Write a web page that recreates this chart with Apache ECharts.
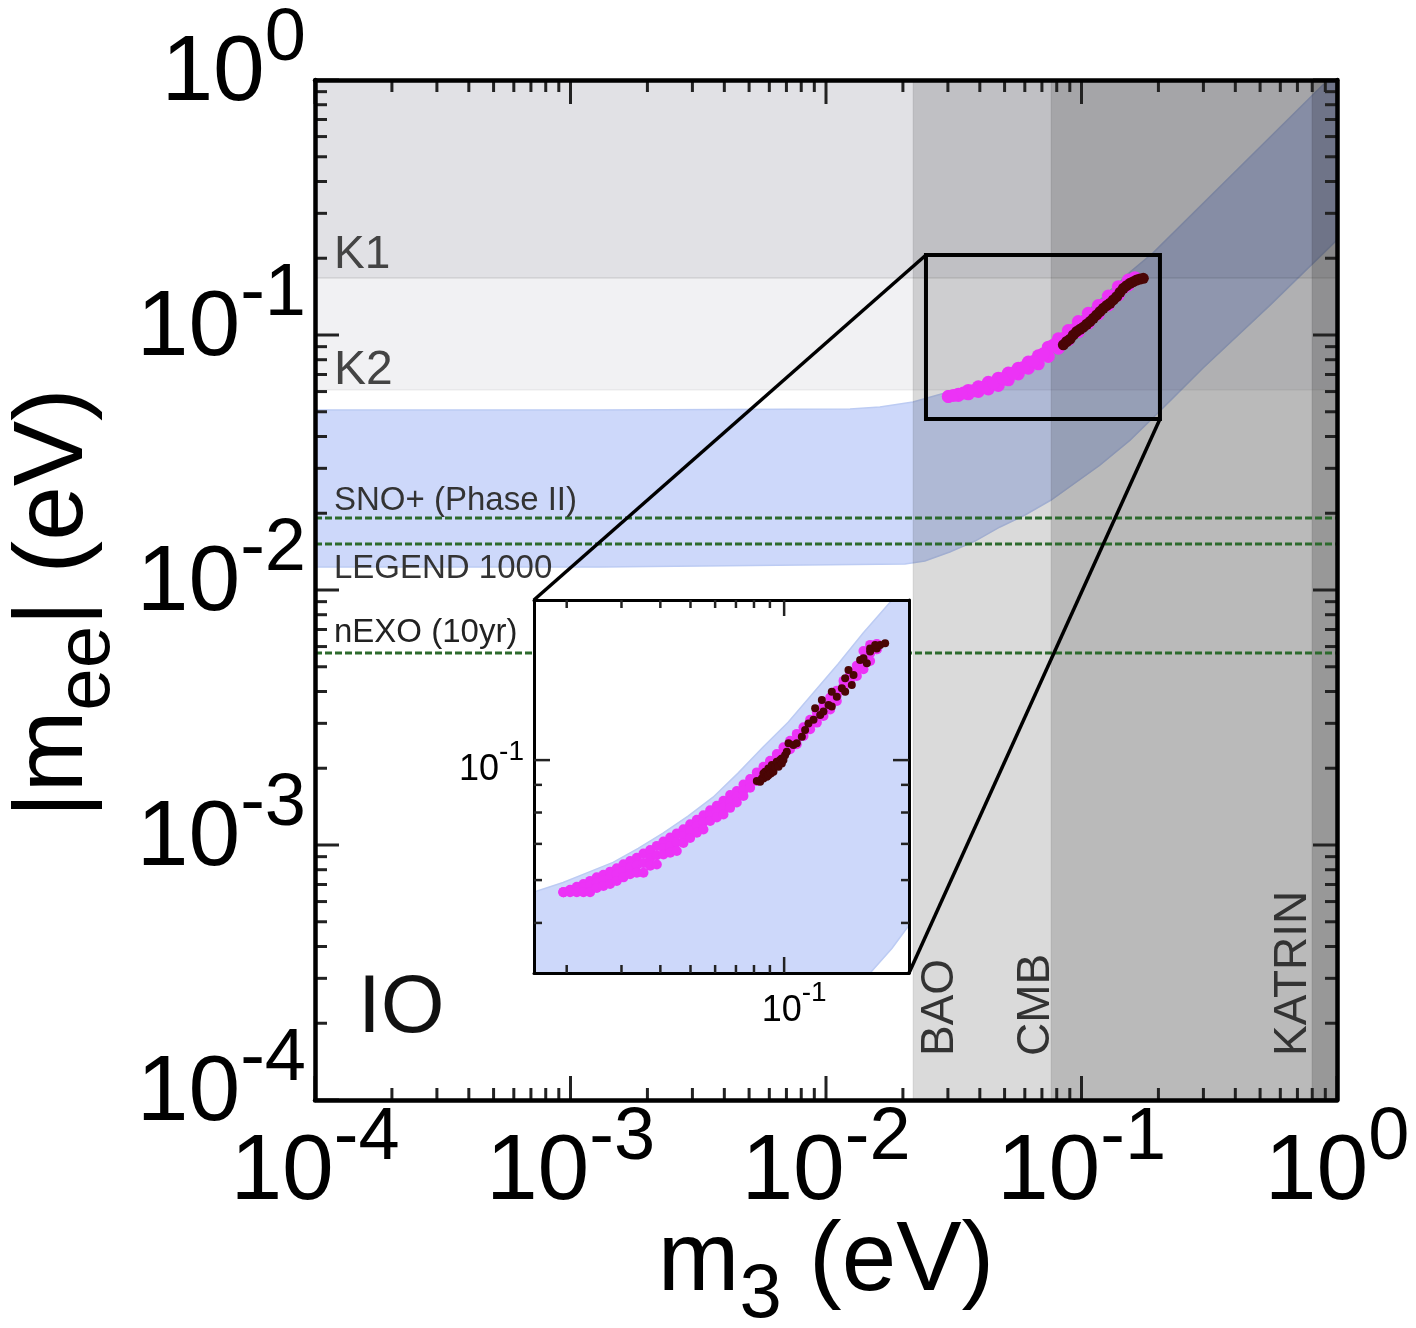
<!DOCTYPE html>
<html>

<head>
    <meta charset="utf-8">
    <title>IO</title>
    <script src="https://cdn.jsdelivr.net/npm/echarts@6/dist/echarts.min.js"></script>
    <style>
        html, body { margin: 0; background: #fff; }
    </style>
</head>

<body>
    <div id="main" style="width: 1416px;height:1328px;"></div>
</body>
<script type="text/javascript">
    // main panel limits
    var mainXRange = [1e-4, 1];
    var mainYRange = [1e-4, 1];
    var decades = [1e-4, 1e-3, 1e-2, 1e-1, 1];
    var minorFactors = [2, 3, 4, 5, 6, 7, 8, 9];

    // inset limits + ticks
    var insetXRange = [0.0157, 0.252];
    var insetYRange = [0.0404, 0.1977];
    var insetXMinor = [0.02, 0.03, 0.04, 0.05, 0.06, 0.07, 0.08, 0.09];
    var insetXMajor = [0.1];
    var insetYMinor = [0.05, 0.06, 0.07, 0.08, 0.09];
    var insetYMajor = [0.1];

    // excluded regions
    var k1Limit = [0.1674, 1];
    var k2Limit = [0.0608, 0.1674];
    var baoLimit = 0.0219;
    var cmbLimit = 0.076;
    var katrinLimit = 0.798;

    // sensitivities
    var snoLimit = 0.01915;
    var legendLimit = 0.01515;
    var nexoLimit = 0.00566;

    // allowed band, main panel
    var bandUpperX = [1e-4, 0.0013, 0.01242, 0.01625, 0.0219, 0.0292, 0.0383, 0.048, 0.0601, 0.076, 0.0944, 0.118, 0.155, 0.1906, 0.881, 1];
    var bandUpperY = [0.0508, 0.0508, 0.0513, 0.0522, 0.0546, 0.0592, 0.0637, 0.0678, 0.0783, 0.093, 0.1125, 0.137, 0.1767, 0.21, 0.956, 1];
    var bandLowerX = [1e-4, 0.0013, 0.02037, 0.02437, 0.0305, 0.0383, 0.048, 0.0601, 0.076, 0.118, 0.155, 0.2028, 0.299, 0.547, 1];
    var bandLowerY = [0.0123, 0.0123, 0.01265, 0.013, 0.0141, 0.01556, 0.01767, 0.01968, 0.02254, 0.0309, 0.0387, 0.0504, 0.0742, 0.131, 0.236];

    // allowed band, inset
    var insetBandX = [0.0157, 0.01947, 0.02344, 0.02818, 0.03395, 0.0408, 0.0491, 0.0591, 0.0711, 0.0856, 0.103, 0.124, 0.1493, 0.1795, 0.2223, 0.252, 0.252, 0.2223, 0.189, 0.0157];
    var insetBandY = [0.057, 0.0594, 0.062, 0.0647, 0.0687, 0.0733, 0.0788, 0.0854, 0.0946, 0.1057, 0.1175, 0.133, 0.1507, 0.1718, 0.1977, 0.1977, 0.0495, 0.0449, 0.0404, 0.0404];

    // points, main panel
    var mainPinkX = [0.03012, 0.03295, 0.03606, 0.03947, 0.04319, 0.04725, 0.05171, 0.05658, 0.06194, 0.06776, 0.07417, 0.08117, 0.08879, 0.09719, 0.1063, 0.1164, 0.1274, 0.1394, 0.1525, 0.1619];
    var mainPinkTop = [0.0574, 0.0586, 0.0606, 0.0626, 0.0652, 0.0677, 0.0709, 0.0741, 0.0783, 0.0829, 0.0896, 0.0966, 0.1041, 0.1129, 0.1217, 0.1304, 0.1422, 0.1547, 0.1643, 0.1678];
    var mainPinkBot = [0.0574, 0.0579, 0.0588, 0.0601, 0.0614, 0.0634, 0.0667, 0.0703, 0.0741, 0.0771, 0.0824, 0.0888, 0.0957, 0.1031, 0.1112, 0.121, 0.1312, 0.1436, 0.1571, 0.1653];
    var mainPinkMidX = [0.0315, 0.0345, 0.0377, 0.0413, 0.0452, 0.0494, 0.0541, 0.0592, 0.0648, 0.0709, 0.0776, 0.0849, 0.0929, 0.1017, 0.1112, 0.1217, 0.1332, 0.1458, 0.1572];
    var mainPinkMidY = [0.0579, 0.0592, 0.0604, 0.0624, 0.0648, 0.0675, 0.0709, 0.0746, 0.0787, 0.0844, 0.0912, 0.0969, 0.1047, 0.1121, 0.121, 0.1308, 0.1422, 0.1535, 0.1643];
    var mainDarkX = [0.0849, 0.0875, 0.0902, 0.0929, 0.0957, 0.0987, 0.1017, 0.1048, 0.1079, 0.1112, 0.1147, 0.1181, 0.1217, 0.1254, 0.1293, 0.1332, 0.1373, 0.1415, 0.1458, 0.1502, 0.1548, 0.1596, 0.1644, 0.1694, 0.1746];
    var mainDarkY = [0.0915, 0.0943, 0.0963, 0.1001, 0.1031, 0.1053, 0.1073, 0.1102, 0.1129, 0.1163, 0.1199, 0.1235, 0.1273, 0.1304, 0.1332, 0.1372, 0.1414, 0.147, 0.1524, 0.1561, 0.1595, 0.1618, 0.1643, 0.1658, 0.1668];

    // points, inset
    var insetPinkX = [0.01952, 0.02051, 0.02155, 0.02264, 0.02378, 0.02498, 0.02625, 0.02758, 0.02897, 0.03044, 0.03198, 0.0336, 0.0353, 0.0371, 0.03897, 0.04093, 0.04301, 0.04518, 0.04746, 0.04987, 0.0524, 0.05503, 0.05783, 0.06075, 0.06382, 0.06705, 0.07044, 0.074, 0.07775, 0.08168, 0.08582, 0.09016, 0.09472, 0.09952, 0.1045, 0.1098, 0.1154, 0.1212, 0.1274, 0.1338, 0.1406, 0.1477, 0.1552, 0.163, 0.1713, 0.1799, 0.189, 0.1986];
    var insetPinkTop = [0.057, 0.0576, 0.0583, 0.059, 0.0598, 0.0607, 0.0614, 0.0622, 0.0631, 0.0642, 0.0651, 0.066, 0.0672, 0.0682, 0.0694, 0.0707, 0.0719, 0.0732, 0.0745, 0.0761, 0.0776, 0.0791, 0.0808, 0.0823, 0.0841, 0.0862, 0.0877, 0.0901, 0.0923, 0.0949, 0.0972, 0.0997, 0.1026, 0.1056, 0.1086, 0.1118, 0.115, 0.1187, 0.1226, 0.1262, 0.1305, 0.1344, 0.1401, 0.1443, 0.1495, 0.1591, 0.1633, 0.164];
    var insetPinkMid = [0.057, 0.0574, 0.0578, 0.0582, 0.0586, 0.0593, 0.06, 0.0607, 0.0615, 0.0624, 0.0633, 0.0639, 0.0645, 0.0659, 0.0667, 0.0687, 0.0693, 0.0704, 0.0724, 0.074, 0.0755, 0.0768, 0.079, 0.0802, 0.0817, 0.0839, 0.0856, 0.0879, 0.0906, 0.0932, 0.0958, 0.0993, 0.1014, 0.1041, 0.1066, 0.1094, 0.1129, 0.1162, 0.1201, 0.1235, 0.1272, 0.1316, 0.1371, 0.1417, 0.1464, 0.1532, 0.1576, 0.1603];
    var insetPinkBot = [0.057, 0.057, 0.057, 0.057, 0.057, 0.058, 0.0585, 0.059, 0.0598, 0.0607, 0.0615, 0.0619, 0.0619, 0.0638, 0.0641, 0.0669, 0.0674, 0.0679, 0.0703, 0.0718, 0.0734, 0.0744, 0.0772, 0.0783, 0.0793, 0.0816, 0.0835, 0.0858, 0.0889, 0.0915, 0.0948, 0.0989, 0.1003, 0.1025, 0.1047, 0.107, 0.1108, 0.114, 0.1173, 0.1207, 0.1241, 0.1286, 0.1352, 0.1391, 0.1431, 0.1472, 0.1525, 0.1603];
    var insetDarkX = [0.0817, 0.0837, 0.0848, 0.0858, 0.0858, 0.0869, 0.088, 0.089, 0.089, 0.0902, 0.0906, 0.0913, 0.0924, 0.0935, 0.0947, 0.0959, 0.0971, 0.0983, 0.0983, 0.0995, 0.1007, 0.102, 0.1033, 0.1071, 0.1098, 0.114, 0.1168, 0.1197, 0.1243, 0.1258, 0.1306, 0.1338, 0.1322, 0.1389, 0.1423, 0.1423, 0.1477, 0.1533, 0.1571, 0.1571, 0.165, 0.161, 0.1671, 0.1755, 0.1844, 0.1799, 0.189, 0.189, 0.1986, 0.2035, 0.2112, 0.1962];
    var insetDarkY = [0.0915, 0.0912, 0.0925, 0.0925, 0.0945, 0.0952, 0.0932, 0.0965, 0.0938, 0.0958, 0.0945, 0.0979, 0.0952, 0.0972, 0.0993, 0.0972, 0.1, 0.1007, 0.0986, 0.1, 0.1021, 0.1036, 0.1074, 0.1066, 0.1074, 0.1105, 0.1137, 0.1169, 0.1187, 0.1247, 0.1212, 0.123, 0.1292, 0.1265, 0.1256, 0.1338, 0.131, 0.1358, 0.1338, 0.1417, 0.1377, 0.1468, 0.1437, 0.1532, 0.151, 0.1542, 0.1587, 0.1609, 0.1609, 0.1633, 0.1645, 0.1633];

    // zoom box and the lines going to the inset corners
    var boxX = [0.02462, 0.2028];
    var boxY = [0.0468, 0.2059];
    var leaderA = [[0.02462, 0.2059], [0.000719, 0.00914]];
    var leaderB = [[0.2028, 0.0468], [0.02113, 0.000315]];

    var fontName = '"Liberation Sans", Arial, sans-serif';

    function zip(xs, ys) {
        return xs.map(function(x, i) {
            return [x, ys[i]];
        });
    }

    function powerLabel(v) {
        var e = Math.round(Math.log(v) / Math.LN10);
        if (Math.abs(Math.pow(10, e) / v - 1) > 0.001) {
            return '';
        }
        return '{b|10}{s|' + e + '}';
    }

    function bigRich() {
        return {
            b: { fontSize: 93, fontFamily: fontName, color: '#000', lineHeight: 80, verticalAlign: 'bottom', padding: [0, 0, 44, 0] },
            s: { fontSize: 74, fontFamily: fontName, color: '#000', lineHeight: 60, verticalAlign: 'bottom', padding: [0, 0, 88, 0] }
        };
    }

    function smallRich() {
        return {
            b: { fontSize: 36, fontFamily: fontName, color: '#000', lineHeight: 34, verticalAlign: 'bottom', padding: [0, 0, 6, 0] },
            s: { fontSize: 28, fontFamily: fontName, color: '#000', lineHeight: 26, verticalAlign: 'bottom', padding: [0, 0, 28, 0] }
        };
    }

    // ticks on all four sides, drawn inward
    function tickSeries(index, xMajor, xMinor, yMajor, yMinor, lenMajor, lenMinor, width, z) {
        var items = [];
        xMajor.forEach(function(v) { items.push(['x', v, lenMajor]); });
        xMinor.forEach(function(v) { items.push(['x', v, lenMinor]); });
        yMajor.forEach(function(v) { items.push(['y', v, lenMajor]); });
        yMinor.forEach(function(v) { items.push(['y', v, lenMinor]); });
        return {
            type: 'custom',
            xAxisIndex: index,
            yAxisIndex: index,
            z: z,
            silent: true,
            clip: false,
            encode: { x: [], y: [] },
            data: items.map(function(t, i) { return [i]; }),
            renderItem: function(params, api) {
                var t = items[params.dataIndex];
                var cs = params.coordSys;
                var len = t[2];
                var lines = [];
                if (t[0] === 'x') {
                    var px = api.coord([t[1], index === 0 ? 1 : insetYRange[1]])[0];
                    lines = [[px, cs.y, px, cs.y + len], [px, cs.y + cs.height, px, cs.y + cs.height - len]];
                } else {
                    var py = api.coord([index === 0 ? 1 : insetXRange[1], t[1]])[1];
                    lines = [[cs.x, py, cs.x + len, py], [cs.x + cs.width, py, cs.x + cs.width - len, py]];
                }
                return {
                    type: 'group',
                    children: lines.map(function(l) {
                        return {
                            type: 'line',
                            shape: { x1: l[0], y1: l[1], x2: l[2], y2: l[3] },
                            style: { stroke: '#222', lineWidth: width }
                        };
                    })
                };
            }
        };
    }

    // one filled polygon from value arrays
    function polygonSeries(index, pts, fill, edge, z) {
        return {
            type: 'custom',
            xAxisIndex: index,
            yAxisIndex: index,
            z: z,
            silent: true,
            clip: true,
            encode: { x: [], y: [] },
            data: [[0]],
            renderItem: function(params, api) {
                return {
                    type: 'polygon',
                    shape: { points: pts.map(function(p) { return api.coord(p); }) },
                    style: { fill: fill, stroke: edge, lineWidth: 1.5 }
                };
            }
        };
    }

    // translucent rectangles, x0 x1 y0 y1
    var shades = [
        [mainXRange[0], mainXRange[1], k1Limit[0], k1Limit[1], 'rgba(40,45,70,0.14)'],
        [mainXRange[0], mainXRange[1], k2Limit[0], k2Limit[1], 'rgba(40,45,70,0.065)'],
        [baoLimit, mainXRange[1], mainYRange[0], mainYRange[1], 'rgba(20,20,20,0.155)'],
        [cmbLimit, mainXRange[1], mainYRange[0], mainYRange[1], 'rgba(20,20,20,0.155)'],
        [katrinLimit, mainXRange[1], mainYRange[0], mainYRange[1], 'rgba(20,20,20,0.2)']
    ];
    var shadeSeries = {
        type: 'custom',
        xAxisIndex: 0,
        yAxisIndex: 0,
        z: 2,
        silent: true,
        clip: true,
        encode: { x: [], y: [] },
        data: shades.map(function(s, i) { return [i]; }),
        renderItem: function(params, api) {
            var s = shades[params.dataIndex];
            var a = api.coord([s[0], s[3]]);
            var b = api.coord([s[1], s[2]]);
            return {
                type: 'rect',
                shape: { x: a[0], y: a[1], width: b[0] - a[0], height: b[1] - a[1] },
                style: { fill: s[4], stroke: 'rgba(0,0,0,0.05)', lineWidth: 1.5 }
            };
        }
    };

    function limitLine(v) {
        return {
            type: 'line',
            xAxisIndex: 0,
            yAxisIndex: 0,
            z: 3,
            silent: true,
            symbol: 'none',
            data: [[mainXRange[0], v], [mainXRange[1], v]],
            lineStyle: { color: '#2c6a2c', width: 3, type: [7, 3] }
        };
    }

    var boxSeries = {
        type: 'custom',
        xAxisIndex: 0,
        yAxisIndex: 0,
        z: 14,
        silent: true,
        clip: false,
        encode: { x: [], y: [] },
        data: [[0]],
        renderItem: function(params, api) {
            var a = api.coord([boxX[0], boxY[1]]);
            var b = api.coord([boxX[1], boxY[0]]);
            var lineOf = function(seg) {
                var p = api.coord(seg[0]);
                var q = api.coord(seg[1]);
                return {
                    type: 'line',
                    shape: { x1: p[0], y1: p[1], x2: q[0], y2: q[1] },
                    style: { stroke: '#000', lineWidth: 3.5 }
                };
            };
            return {
                type: 'group',
                children: [{
                    type: 'rect',
                    shape: { x: a[0], y: a[1], width: b[0] - a[0], height: b[1] - a[1] },
                    style: { fill: 'none', stroke: '#000', lineWidth: 4 }
                }, lineOf(leaderA), lineOf(leaderB)]
            };
        }
    };

    function scatter(index, pts, size, color, z) {
        return {
            type: 'scatter',
            xAxisIndex: index,
            yAxisIndex: index,
            z: z,
            silent: true,
            symbolSize: size,
            itemStyle: { color: color, opacity: 1 },
            data: pts
        };
    }

    function minorsOf(list) {
        var out = [];
        list.slice(0, -1).forEach(function(d) {
            minorFactors.forEach(function(f) { out.push(d * f); });
        });
        return out;
    }

    function plainAxis(kind, index, range, position, z) {
        return {
            type: 'log',
            logBase: 10,
            gridIndex: index,
            position: position,
            min: range[0],
            max: range[1],
            z: z,
            splitLine: { show: false },
            axisTick: { show: false },
            axisLabel: { show: false },
            axisLine: { show: true, onZero: false, lineStyle: { color: '#000', width: index === 0 ? 4.5 : 3 } }
        };
    }

    function nameRich() {
        return {
            n: { fontSize: 98, fontFamily: fontName, color: '#000', lineHeight: 100, verticalAlign: 'bottom', padding: [0, 0, 22, 0] },
            sub: { fontSize: 76, fontFamily: fontName, color: '#000', lineHeight: 76, verticalAlign: 'bottom' }
        };
    }

    var xBottom = plainAxis('x', 0, mainXRange, 'bottom', 6);
    xBottom.axisLabel = { show: true, margin: 84, formatter: powerLabel, rich: bigRich() };
    xBottom.name = '{n|m}{sub|3}{n| (eV)}';
    xBottom.nameLocation = 'center';
    xBottom.nameGap = 134;
    xBottom.nameMoveOverlap = false;
    xBottom.nameTextStyle = { rich: nameRich() };

    var yLeft = plainAxis('y', 0, mainYRange, 'left', 6);
    yLeft.axisLabel = { show: true, margin: 9, padding: [90, 0, 0, 0], formatter: powerLabel, rich: bigRich() };
    yLeft.name = '{n||m}{sub|ee}{n|| (eV)}';
    yLeft.nameLocation = 'center';
    yLeft.nameGap = 188;
    yLeft.nameRotate = 90;
    yLeft.nameTextStyle = { padding: [0, 26, 0, 0], rich: nameRich() };

    var xInset = plainAxis('x', 1, insetXRange, 'bottom', 12);
    xInset.axisLabel = { show: true, margin: 28, padding: [0, 0, 0, 20], formatter: powerLabel, rich: smallRich() };
    var yInset = plainAxis('y', 1, insetYRange, 'left', 12);
    yInset.axisLabel = { show: true, margin: 10, padding: [34, 0, 0, 0], formatter: powerLabel, rich: smallRich() };

    function labelText(text, x, y, size, color, rotated) {
        return {
            type: 'text',
            x: x,
            y: y,
            z: 30,
            silent: true,
            rotation: rotated ? Math.PI / 2 : 0,
            style: {
                text: text,
                fill: color,
                font: size + 'px ' + fontName,
                textAlign: 'left',
                textVerticalAlign: 'bottom'
            }
        };
    }

    var chart = echarts.init(document.getElementById('main'));
    chart.setOption({
        animation: false,
        backgroundColor: '#fff',
        grid: [
            { left: 315, top: 80, width: 1022, height: 1020, z: 0, outerBoundsMode: 'none' },
            { left: 534, top: 600, width: 375, height: 373, show: true, backgroundColor: '#fff', borderWidth: 0, z: 10, outerBoundsMode: 'none' }
        ],
        xAxis: [
            xBottom,
            plainAxis('x', 0, mainXRange, 'top', 6),
            xInset,
            plainAxis('x', 1, insetXRange, 'top', 12)
        ],
        yAxis: [
            yLeft,
            plainAxis('y', 0, mainYRange, 'right', 6),
            yInset,
            plainAxis('y', 1, insetYRange, 'right', 12)
        ],
        graphic: [
            labelText('K1', 334, 278, 46, '#444', false),
            labelText('K2', 334, 395, 48, '#444', false),
            labelText('SNO+ (Phase II)', 334, 517, 33, '#333', false),
            labelText('LEGEND 1000', 334, 585, 33, '#333', false),
            labelText('nEXO (10yr)', 334, 649, 33, '#222', false),
            labelText('IO', 358, 1050, 82, '#111', false),
            labelText('BAO', 963, 1056, 46, '#333', true),
            labelText('CMB', 1059, 1056, 46, '#333', true),
            labelText('KATRIN', 1316, 1056, 46, '#333', true)
        ],
        series: [
            polygonSeries(0, zip(bandUpperX, bandUpperY).concat(zip(bandLowerX, bandLowerY).reverse()), '#cdd8fa', '#bccbf3', 1),
            shadeSeries,
            limitLine(snoLimit),
            limitLine(legendLimit),
            limitLine(nexoLimit),
            scatter(0, zip(mainPinkX, mainPinkTop).concat(zip(mainPinkX, mainPinkBot), zip(mainPinkMidX, mainPinkMidY)), 13, '#ec33f6', 4),
            scatter(0, zip(mainDarkX, mainDarkY), 11, '#4a0505', 5),
            tickSeries(0, decades, minorsOf(decades), decades, minorsOf(decades), 24, 12, 3, 5),
            polygonSeries(2, zip(insetBandX, insetBandY), '#cdd8fa', '#bccbf3', 11),
            scatter(2, zip(insetPinkX, insetPinkTop).concat(zip(insetPinkX, insetPinkMid), zip(insetPinkX, insetPinkBot)), 10, '#ec33f6', 12),
            scatter(2, zip(insetDarkX, insetDarkY), 8, '#4a0505', 13),
            tickSeries(2, insetXMajor, insetXMinor, insetYMajor, insetYMinor, 16, 8, 2.5, 13),
            boxSeries
        ]
    });
</script>

</html>
